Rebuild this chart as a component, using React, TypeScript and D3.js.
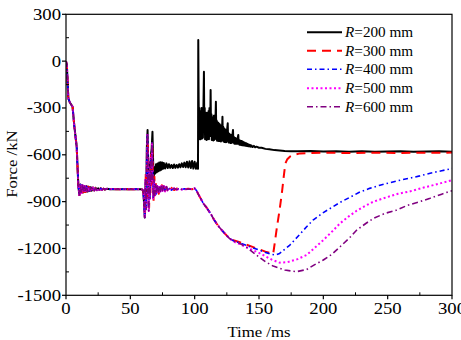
import React from "react";
import * as d3 from "d3";

type P = [number, number];

const xTicks = [0, 50, 100, 150, 200, 250, 300];
const yTicks = [300, 0, -300, -600, -900, -1200, -1500];
const xMinor = [25, 75, 125, 175, 225, 275];
const yMinor = [150, -150, -450, -750, -1050, -1350];

const early: P[] = [
  [0, 0], [0.7, -30], [1.8, -238], [3, -265], [5.1, -292], [6.5, -420], [8.3, -548], [9.6, -800],
  [10.4, -858], [11.2, -790], [12, -845], [12.8, -795], [13.6, -840], [14.4, -800], [15.2, -838],
  [16, -802], [16.8, -835], [17.6, -805], [18.4, -832], [19.2, -808], [20, -830], [21, -810],
  [22, -828], [23, -812], [24, -826], [25, -814], [26, -825], [27, -815], [28, -824], [29, -817],
  [30, -822], [32, -818], [34, -821], [36, -819], [40, -821], [45, -820], [50, -821], [55, -820],
  [59, -821], [60, -830],
];

const coloredSpike: P[] = [
  [60.6, -900], [61.2, -1005], [61.8, -760], [62.3, -950], [62.8, -600], [63.3, -460], [63.8, -880],
  [64.3, -960], [64.8, -700], [65.3, -880], [65.8, -620], [66.3, -780], [66.8, -520], [67.3, -720],
  [67.8, -880], [68.4, -760], [69, -860], [69.6, -790], [70.2, -850], [71, -800], [71.8, -845],
  [72.6, -795], [73.4, -835], [74.2, -790], [75, -830], [76, -800], [77, -835], [78, -805], [79, -828],
  [80, -812], [82, -826], [84, -815], [86, -824], [88, -816], [90, -822], [92, -818], [94, -821],
  [96, -819], [98, -820], [100, -815],
];

const redSpike: P[] = [
  [60.8, -880], [61.4, -990], [62, -720], [62.5, -920], [63, -640], [63.6, -520], [64.1, -900],
  [64.6, -940], [65.1, -680], [65.6, -860], [66.1, -600], [66.6, -800], [67.1, -560], [67.6, -760],
  [68.1, -900], [68.7, -740], [69.3, -870], [69.9, -780], [70.5, -840], [71.3, -805], [72.1, -850],
  [72.9, -800], [73.7, -830], [74.5, -795], [75.3, -835], [76.3, -805], [77.3, -830], [78.3, -808],
  [80, -825], [82, -812], [84, -826], [86, -816], [88, -823], [90, -817], [92, -821], [95, -818],
  [98, -821], [100, -815],
];

const coloredDescent: P[] = [
  [101.5, -830], [103, -855], [105, -885], [107, -915], [109, -935], [111, -960], [113, -985],
  [115, -1015], [117, -1040], [119, -1062], [121, -1082], [123, -1100], [125, -1118], [127, -1135],
];

const blackMid: P[] = [
  [60.6, -900], [61.2, -1000], [61.8, -780], [62.3, -900], [62.8, -560], [63.4, -441], [63.9, -700],
  [64.4, -860], [64.9, -650], [65.4, -760], [66, -600], [66.6, -560], [67.2, -452], [67.7, -640],
  [68.2, -740], [68.8, -680], [69.4, -720], [70, -660], [70.6, -712], [71.2, -655], [71.8, -705],
  [72.4, -650], [73, -700], [73.6, -648], [74.2, -695], [74.8, -650], [75.4, -690], [76, -652],
  [77, -688], [78, -655], [79, -685], [80, -660], [81, -684], [82, -665], [83, -685], [84, -662],
  [85, -684], [86, -665], [87, -682], [88, -660], [89, -680], [90, -655], [91, -678], [92, -650],
  [93, -680], [94, -645], [95, -682], [96, -642], [97, -685], [98, -640], [99, -688], [100, -645],
  [101, -690], [102, -650], [102.6, -690],
];

const blackTail: P[] = [
  [102.8, 135], [103.1, -250], [103.4, -480], [103.7, -300], [104, -500], [104.3, -320],
  [104.6, -500], [104.9, -330], [105.2, -490], [105.5, -300], [105.8, -495], [106.1, -310],
  [106.4, -490], [106.8, -300], [107.2, -68], [107.5, -420], [107.8, -300], [108.1, -500],
  [108.4, -340], [108.7, -500], [109, -330], [109.3, -505], [109.6, -340], [109.9, -500],
  [110.2, -330], [110.5, -495], [110.8, -320], [111.1, -500], [111.5, -300], [112, -480],
  [112.4, -185], [112.7, -450], [113, -340], [113.3, -505], [113.6, -360], [113.9, -505],
  [114.2, -360], [114.5, -508], [114.8, -350], [115.1, -505], [115.4, -350], [115.8, -500],
  [116.5, -260], [116.8, -480], [117.1, -380], [117.4, -510], [117.7, -390], [118, -510],
  [118.3, -395], [118.6, -512], [118.9, -400], [119.2, -512], [119.5, -405], [119.8, -512],
  [120.1, -410], [120.4, -515], [120.7, -420], [121, -510], [121.6, -356], [121.9, -500],
  [122.2, -420], [122.5, -515], [122.8, -430], [123.1, -518], [123.4, -435], [123.7, -518],
  [124, -440], [124.3, -520], [124.6, -445], [124.9, -518], [125.2, -440], [125.7, -398],
  [126, -510], [126.3, -460], [126.6, -522], [126.9, -465], [127.2, -522], [127.5, -470],
  [127.8, -524], [128.1, -472], [128.4, -524], [128.7, -475], [129, -522], [129.4, -470],
  [129.8, -441], [130.1, -520], [130.4, -485], [130.7, -528], [131, -490], [131.3, -530],
  [131.6, -492], [131.9, -530], [132.2, -495], [132.5, -530], [132.8, -498], [133.1, -530],
  [133.5, -490], [133.9, -473], [134.2, -530], [134.5, -505], [134.8, -535], [135.1, -508],
  [135.4, -536], [135.7, -510], [136, -537], [136.4, -512], [136.8, -538], [137.2, -515],
  [137.6, -540], [138, -520], [138.5, -541], [139, -522], [139.5, -542], [140, -526], [140.5, -544],
  [141, -530], [141.5, -545], [142, -534], [142.5, -546], [143, -537], [143.5, -548], [144, -540],
  [145, -550], [146, -543], [147, -552], [148, -548], [150, -555], [152, -555], [155, -562],
  [158, -565], [162, -570], [166, -572], [170, -575], [175, -577], [180, -578], [190, -576],
  [200, -579], [210, -577], [220, -580], [230, -578], [240, -581], [250, -579], [260, -578],
  [270, -581], [280, -579], [290, -578], [300, -580],
];

const redTail: P[] = [
  [129, -1145], [132, -1152], [135, -1160], [140, -1175], [145, -1190], [150, -1205], [155, -1220],
  [160, -1232], [161, -1236], [162.5, -1150], [164, -1060], [166, -954], [168, -830], [169.5, -720],
  [170.5, -655], [172, -628], [174, -612], [177, -600], [182, -591], [190, -588], [200, -587],
  [220, -588], [240, -587], [260, -588], [280, -587], [300, -586],
];

const blueTail: P[] = [
  [130, -1150], [135, -1165], [140, -1180], [145, -1195], [150, -1210], [155, -1225], [160, -1238],
  [163, -1242], [166, -1232], [170, -1205], [174, -1178], [180, -1125], [187, -1061], [192, -1018],
  [200, -970], [207, -935], [213, -905], [220, -875], [228, -840], [236, -815], [244, -795],
  [252, -778], [260, -762], [267, -750], [275, -735], [283, -718], [292, -702], [300, -688],
];

const magentaTail: P[] = [
  [130, -1155], [135, -1172], [140, -1192], [145, -1210], [150, -1228], [155, -1250], [160, -1272],
  [166, -1291], [172, -1288], [180, -1268], [187, -1242], [193, -1198], [200, -1146], [207, -1090],
  [213, -1039], [220, -993], [226, -958], [233, -925], [239, -900], [250, -870], [258, -850],
  [267, -835], [278, -810], [290, -785], [300, -762],
];

const purpleTail: P[] = [
  [130, -1152], [135, -1168], [140, -1190], [148, -1242], [155, -1285], [161, -1313], [170, -1338],
  [179, -1349], [187, -1335], [193, -1305], [200, -1274], [207, -1235], [213, -1189], [220, -1135],
  [226, -1082], [233, -1040], [239, -1007], [248, -975], [257, -954], [265, -925], [275, -900],
  [283, -879], [292, -852], [300, -830],
];

const seriesNames = ["200", "300", "400", "500", "600"];
const seriesColors = ["#000000", "#ff0000", "#0000ff", "#ff00ff", "#800080"];
const seriesDash = ["none", "9,6", "5,3,1.5,3", "2,2.5", "6,3,1.5,3"];
const seriesWidth = [2, 2, 1.6, 2, 1.6];
const seriesData: P[][] = [
  [...early, ...blackMid, ...blackTail],
  [...early, ...redSpike, ...coloredDescent, ...redTail],
  [...early, ...coloredSpike, ...coloredDescent, ...blueTail],
  [...early, ...coloredSpike, ...coloredDescent, ...magentaTail],
  [...early, ...coloredSpike, ...coloredDescent, ...purpleTail],
];

const FONT = "'Liberation Serif', 'Times New Roman', serif";

export default function App() {
  const W = 461, H = 340;
  const L = 66, R = 452, T = 14.3, B = 295.3;
  const x = d3.scaleLinear().domain([0, 300]).range([L, R]);
  const y = d3.scaleLinear().domain([-1500, 300]).range([B, T]);
  const line = d3.line<P>().x((d) => x(d[0])).y((d) => y(d[1]));

  const legendY = [32.3, 50.7, 69.3, 88.3, 106.7];

  return (
    <svg width={W} height={H} style={{ position: "absolute", left: 0, top: 0, background: "#fff", fontFamily: FONT }}>
      <rect x={0} y={0} width={W} height={H} fill="#fff" />
      <defs>
        <clipPath id="plotclip">
          <rect x={L} y={T} width={R - L} height={B - T} />
        </clipPath>
      </defs>
      <g clipPath="url(#plotclip)">
        {seriesData.map((d, i) => (
          <path key={i} d={line(d) || ""} fill="none" stroke={seriesColors[i]}
            strokeWidth={seriesWidth[i]} strokeDasharray={seriesDash[i]}
            strokeLinejoin="round" />
        ))}
      </g>
      <rect x={L} y={T} width={R - L} height={B - T} fill="none" stroke="#000" strokeWidth={1.2} />
      {xTicks.map((t) => (
        <g key={"xt" + t}>
          <line x1={x(t)} x2={x(t)} y1={B} y2={B + 4} stroke="#000" strokeWidth={1.2} />
          <text transform={`translate(${x(t)},313.5) scale(1.1,1)`} textAnchor="middle" fontSize={17}>{t}</text>
        </g>
      ))}
      {xMinor.map((t) => (
        <line key={"xm" + t} x1={x(t)} x2={x(t)} y1={B} y2={B - 3} stroke="#000" strokeWidth={1} />
      ))}
      {yTicks.map((t) => (
        <g key={"yt" + t}>
          <line x1={L - 4} x2={L} y1={y(t)} y2={y(t)} stroke="#000" strokeWidth={1.2} />
          <text transform={`translate(61,${y(t) + 5.5}) scale(1.1,1)`} textAnchor="end" fontSize={17}>{t}</text>
        </g>
      ))}
      {yMinor.map((t) => (
        <line key={"ym" + t} x1={L} x2={L + 3} y1={y(t)} y2={y(t)} stroke="#000" strokeWidth={1} />
      ))}
      <text transform={`translate(${(L + R) / 2},337) scale(1.08,1)`} textAnchor="middle" fontSize={15.5}>Time /ms</text>
      <text transform={`translate(17,164) rotate(-90) scale(1.08,1)`} textAnchor="middle" fontSize={15.5}>Force /kN</text>
      {seriesNames.map((n, i) => (
        <g key={"lg" + n}>
          <line x1={307} x2={342} y1={legendY[i]} y2={legendY[i]} stroke={seriesColors[i]}
            strokeWidth={seriesWidth[i]} strokeDasharray={seriesDash[i]} />
          <text transform={`translate(345,${legendY[i] + 5}) scale(1.05,1)`} fontSize={14.5}>
            <tspan fontStyle="italic">R</tspan>={n} mm
          </text>
        </g>
      ))}
    </svg>
  );
}
